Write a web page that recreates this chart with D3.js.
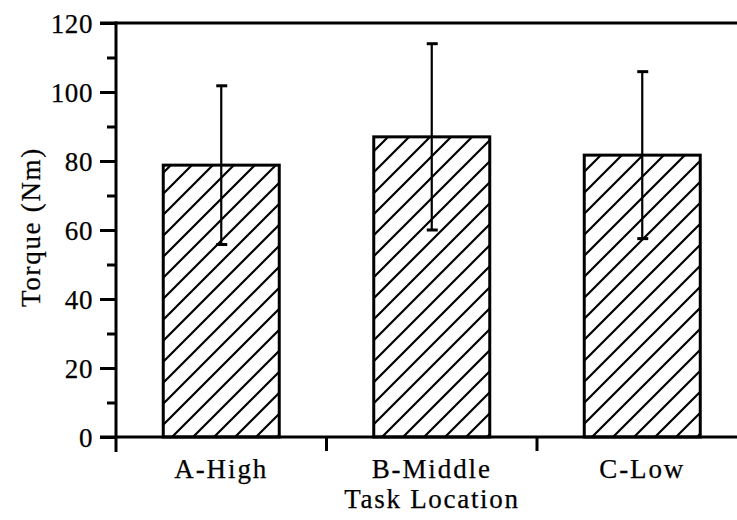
<!DOCTYPE html>
<html><head><meta charset="utf-8">
<script src="https://cdn.jsdelivr.net/npm/d3@7"></script>
<style>body{margin:0;background:#fff}svg{display:block}text{font-family:"Liberation Serif","Times New Roman",serif;fill:#000;stroke:#000;stroke-width:0.25px}</style>
</head><body><svg id="c" width="737" height="520"></svg>
<script>
const categories = ["A-High", "B-Middle", "C-Low"];
const means = [78.8, 87.0, 81.7];
const errors = [23.0, 27.0, 24.2];
const yTicks = [0, 20, 40, 60, 80, 100, 120];
const yMinor = [10, 30, 50, 70, 90, 110];

const svg = d3.select("#c");
const x0 = 116, y0 = 437, yTop = 23;
const y = d3.scaleLinear().domain([0, 120]).range([y0, yTop]);
const x = d3.scaleBand().domain(categories).range([x0, x0 + 631.5]).paddingInner(0).paddingOuter(0);

const defs = svg.append("defs");
const pat = defs.append("pattern").attr("id","hatch").attr("patternUnits","userSpaceOnUse")
  .attr("width",21).attr("height",21);
pat.append("path").attr("d","M-2,2 L2,-2 M0,21 L21,0 M19,23 L23,19").attr("stroke","#000").attr("stroke-width",2.2);

// bars
const bw = 116;
svg.selectAll("rect.bar").data(categories).join("rect").attr("class","bar")
  .attr("x", d => x(d) + x.bandwidth()/2 - bw/2)
  .attr("y", (d,i) => y(means[i]))
  .attr("width", bw)
  .attr("height", (d,i) => y0 - y(means[i]))
  .attr("fill","url(#hatch)").attr("stroke","#000").attr("stroke-width",3);

// error bars
const g = svg.append("g");
categories.forEach((c,i) => {
  const cx = x(c) + x.bandwidth()/2;
  g.append("line").attr("x1",cx).attr("x2",cx).attr("y1",y(means[i]+errors[i])).attr("y2",y(means[i]-errors[i]))
    .attr("stroke","#000").attr("stroke-width",2.2);
  [means[i]+errors[i], means[i]-errors[i]].forEach(v => {
    g.append("line").attr("x1",cx-5).attr("x2",cx+6).attr("y1",y(v)).attr("y2",y(v))
      .attr("stroke","#000").attr("stroke-width",3);
  });
});

// y axis
const yAxis = d3.axisLeft(y).tickValues(yTicks).tickSize(16).tickPadding(7);
const ya = svg.append("g").attr("transform",`translate(${x0},0)`).call(yAxis);
ya.select(".domain").remove();
ya.selectAll(".tick line").attr("stroke-width",3);
ya.selectAll(".tick text").style("font-size","27px").style("letter-spacing","0.6px").attr("dy","0.34em");
svg.append("g").attr("transform",`translate(${x0},0)`)
  .call(d3.axisLeft(y).tickValues(yMinor).tickSize(9).tickFormat(""))
  .call(s => { s.select(".domain").remove(); s.selectAll("line").attr("stroke-width",3); });
svg.append("line").attr("x1",x0).attr("x2",x0).attr("y1",yTop-1.5).attr("y2",y0+15).attr("stroke","#000").attr("stroke-width",3);

// x axis
svg.append("line").attr("x1",100).attr("x2",737).attr("y1",y0).attr("y2",y0).attr("stroke","#000").attr("stroke-width",3);
svg.append("line").attr("x1",100).attr("x2",737).attr("y1",yTop).attr("y2",yTop).attr("stroke","#000").attr("stroke-width",3);
const xa = svg.append("g").attr("transform",`translate(0,${y0})`)
  .call(d3.axisBottom(x).tickSize(0).tickPadding(22));
xa.select(".domain").remove();
xa.selectAll(".tick text").style("font-size","27px").style("letter-spacing","1.9px");
// boundary ticks between categories
svg.selectAll("line.bt").data(categories.slice(1)).join("line").attr("class","bt")
  .attr("x1", d => x(d)).attr("x2", d => x(d)).attr("y1", y0).attr("y2", y0+14)
  .attr("stroke","#000").attr("stroke-width",3);

svg.append("text").attr("x", 432).attr("y", 508).attr("text-anchor","middle").style("font-size","27px").style("letter-spacing","1.7px").text("Task Location");
svg.append("text").attr("transform","translate(40,227) rotate(-90)").attr("text-anchor","middle").style("font-size","27px").style("letter-spacing","1.7px").text("Torque (Nm)");
</script></body></html>
